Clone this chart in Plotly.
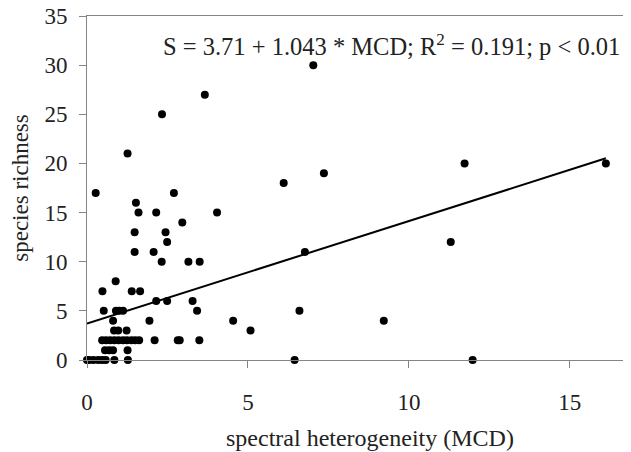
import plotly.graph_objects as go

# Observations: spectral heterogeneity (MCD) vs species richness
mcd = [0.27, 1.26, 2.70, 1.52, 1.60, 2.15, 4.04, 2.96, 1.48, 2.44, 2.49, 1.48, 2.07,
       2.32, 3.15, 3.50, 0.89, 0.48, 1.39, 1.65, 2.15, 2.49, 3.28, 0.52, 0.90, 1.00,
       1.12, 3.42, 0.81, 1.94, 4.54, 5.08, 0.84, 0.97, 1.23,
       0.47, 0.59, 0.72, 0.85, 0.98, 1.12, 1.24, 1.38, 1.50, 1.62, 2.10, 2.82, 2.88, 3.49,
       0.56, 0.69, 0.81, 1.26,
       0.00, 0.07, 0.20, 0.35, 0.47, 0.58, 0.85, 1.27, 6.45, 11.98,
       7.03, 3.66, 2.33, 7.36, 6.11, 6.77, 11.73, 16.12, 11.30, 9.22, 6.60]
richness = [17, 21, 17, 16, 15, 15, 15, 14, 13, 13, 12, 11, 11,
            10, 10, 10, 8, 7, 7, 7, 6, 6, 6, 5, 5, 5,
            5, 5, 4, 4, 4, 3, 3, 3, 3,
            2, 2, 2, 2, 2, 2, 2, 2, 2, 2, 2, 2, 2, 2,
            1, 1, 1, 1,
            0, 0, 0, 0, 0, 0, 0, 0, 0, 0,
            30, 27, 25, 19, 18, 11, 20, 20, 12, 4, 5]

# Regression coefficients
intercept = 3.71
slope = 1.043
fit_x = [0.0, max(mcd)]
fit_y = [intercept + slope * v for v in fit_x]

x_ticks = [0, 5, 10, 15]
y_ticks = [0, 5, 10, 15, 20, 25, 30, 35]

font_family = "Liberation Serif, Times New Roman, serif"
axis_col = "#858585"
text_col = "#222222"

fig = go.Figure()
fig.add_trace(go.Scatter(x=fit_x, y=fit_y, mode="lines",
                         line=dict(color="black", width=2), showlegend=False,
                         hoverinfo="skip"))
fig.add_trace(go.Scatter(x=mcd, y=richness, mode="markers",
                         marker=dict(color="black", size=8), showlegend=False,
                         cliponaxis=False))

# page body adds an 8px offset, so figure is sized to fit the 631x452 window
fig.update_layout(
    width=623, height=444,
    margin=dict(l=79, r=0, t=8, b=92, autoexpand=False),
    paper_bgcolor="white", plot_bgcolor="white",
    font=dict(family=font_family, color=text_col, size=22),
    xaxis=dict(range=[0, 16.9], tickvals=x_ticks, showgrid=False, zeroline=False,
               showline=True, linecolor=axis_col, linewidth=1, mirror=True,
               ticks="outside", ticklen=7, tickcolor=axis_col, automargin=False,
               tickfont=dict(size=23), ticklabelstandoff=14),
    yaxis=dict(range=[0, 35], tickvals=y_ticks, showgrid=False, zeroline=False,
               showline=True, linecolor=axis_col, linewidth=1, automargin=False,
               ticks="outside", ticklen=7, tickcolor=axis_col,
               tickfont=dict(size=23), ticklabelstandoff=7,
               ticklabeloverflow="allow",
               title=dict(text="species richness", font=dict(size=23), standoff=14)),
    annotations=[
        dict(text="S = 3.71 + 1.043 * MCD; R<sup>2</sup> = 0.191; p < 0.01",
             xref="paper", yref="y", x=0.9835, y=32.0,
             xanchor="right", yanchor="middle", showarrow=False,
             font=dict(size=24.5, family=font_family, color=text_col)),
        dict(text="spectral heterogeneity (MCD)",
             xref="paper", yref="paper", x=0.52, y=0, yshift=-78,
             xanchor="center", yanchor="middle", showarrow=False,
             font=dict(size=24, family=font_family, color=text_col)),
    ],
)

fig.write_html("out.html")
